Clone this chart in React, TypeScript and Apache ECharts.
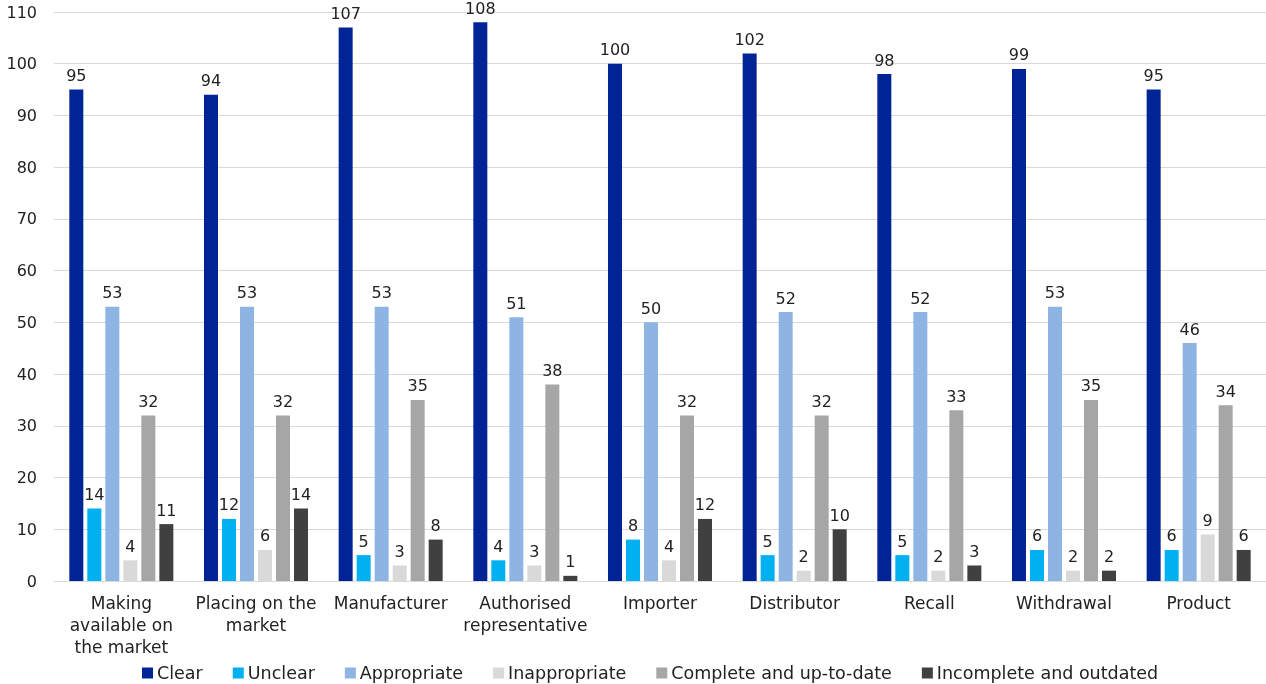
import React, { useEffect, useRef } from "react";
import * as echarts from "echarts";

const categories = [
  "Making\navailable on\nthe market",
  "Placing on the\nmarket",
  "Manufacturer",
  "Authorised\nrepresentative",
  "Importer",
  "Distributor",
  "Recall",
  "Withdrawal",
  "Product",
];
const seriesNames = [
  "Clear",
  "Unclear",
  "Appropriate",
  "Inappropriate",
  "Complete and up-to-date",
  "Incomplete and outdated",
];
const clear = [95, 94, 107, 108, 100, 102, 98, 99, 95];
const unclear = [14, 12, 5, 4, 8, 5, 5, 6, 6];
const appropriate = [53, 53, 53, 51, 50, 52, 52, 53, 46];
const inappropriate = [4, 6, 3, 3, 4, 2, 2, 2, 9];
const complete = [32, 32, 35, 38, 32, 32, 33, 35, 34];
const incomplete = [11, 14, 8, 1, 12, 10, 3, 2, 6];
const colors = ["#002395", "#00B0F0", "#8EB4E3", "#D9D9D9", "#A6A6A6", "#404040"];

const FONT = "DejaVu Sans";

export default function App() {
  const ref = useRef<HTMLDivElement>(null);
  useEffect(() => {
    const chart = echarts.init(ref.current!, null, { renderer: "svg" });
    const data = [clear, unclear, appropriate, inappropriate, complete, incomplete];
    chart.setOption({
      animation: false,
      textStyle: { fontFamily: FONT },
      grid: { left: 54, right: 0, top: 12, bottom: 103, containLabel: false },
      legend: {
        top: 663,
        left: 142,
        padding: 0,
        itemWidth: 11,
        itemHeight: 11,
        itemGap: 30,
        icon: "rect",
        textStyle: {
          fontFamily: FONT,
          fontSize: 17.5,
          lineHeight: 20,
          color: "#222",
          padding: [0, 0, 0, -1],
        },
        data: seriesNames,
      },
      xAxis: {
        type: "category",
        data: categories,
        axisLine: { lineStyle: { color: "#d9d9d9" } },
        axisTick: { show: false },
        axisLabel: {
          interval: 0,
          fontFamily: FONT,
          fontSize: 17,
          color: "#222",
          lineHeight: 22,
          margin: 11,
        },
      },
      yAxis: {
        type: "value",
        min: 0,
        max: 110,
        interval: 10,
        axisLine: { show: false },
        axisTick: { show: false },
        splitLine: { lineStyle: { color: "#d9d9d9" } },
        axisLabel: { fontFamily: FONT, fontSize: 16, color: "#222", margin: 17 },
      },
      series: seriesNames.map((name, i) => ({
        name,
        type: "bar",
        data: data[i],
        barWidth: 14,
        barGap: "28.6%",
        itemStyle: { color: colors[i] },
        label: {
          show: true,
          position: "top",
          distance: 6,
          fontFamily: FONT,
          fontSize: 16,
          color: "#222",
        },
      })),
    });
    return () => chart.dispose();
  }, []);
  return (
    <div
      ref={ref}
      style={{ position: "fixed", left: 0, top: 0, width: 1266, height: 684 }}
    />
  );
}
